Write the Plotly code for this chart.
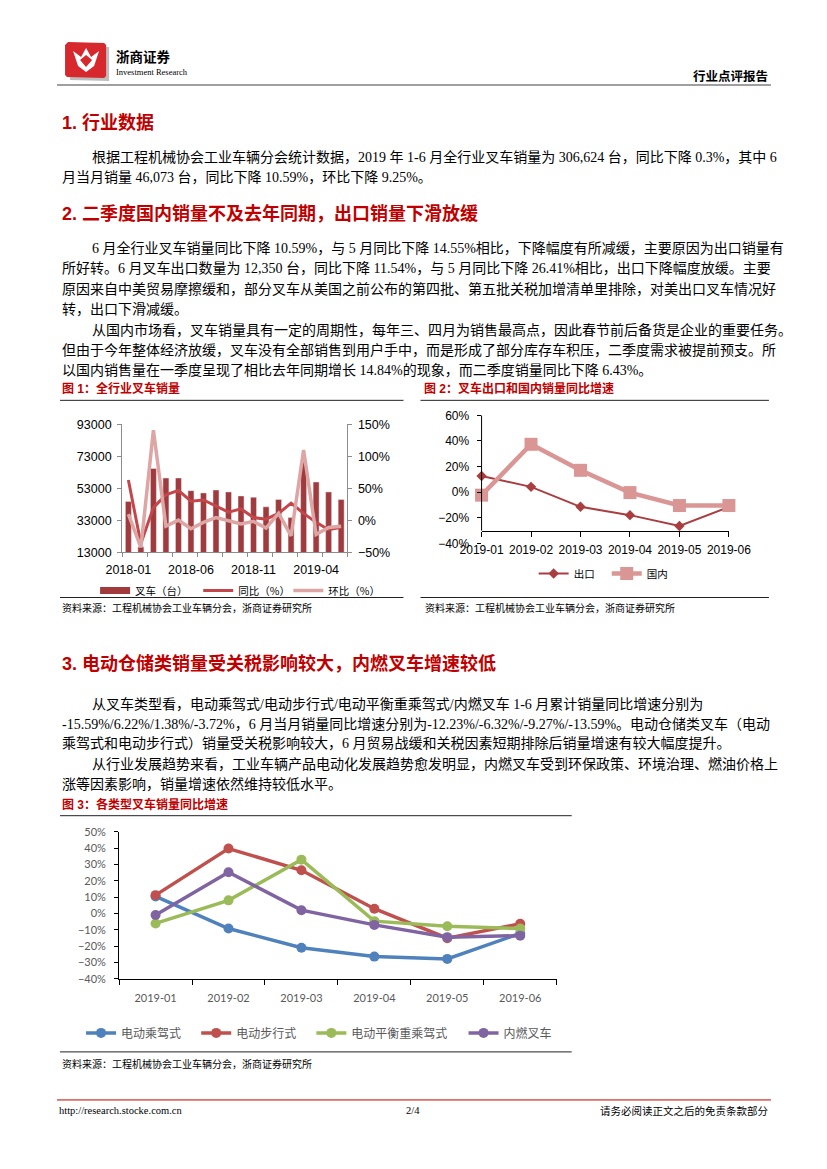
import plotly.graph_objects as go

W, H = 827, 1169
# the page is photographed with the figure occupying this box of the picture
OX, OY, EW, EH = 30, 15, 782, 1154

# ---------------- data ----------------
months_1 = ["2018-01", "2018-02", "2018-03", "2018-04", "2018-05", "2018-06",
            "2018-07", "2018-08", "2018-09", "2018-10", "2018-11", "2018-12",
            "2019-01", "2019-02", "2019-03", "2019-04", "2019-05", "2019-06"]
forklift_sales = [44900, 16500, 65500, 59500, 59500, 51600, 50200, 52000, 50800,
                  48300, 47500, 41500, 46100, 34800, 69500, 57000, 50800, 46073]
yoy_pct = [63, -36, 20, 40, 47, 30, 32, 22, 13, 18, 4.5, 2, 11, 27, 11, -3, -14.55, -10.59]
mom_pct = [10, -42, 141, -9, 0.5, -13, -3, 4.5, -0.5, -5.5, -1.5, -12, 11, -24, 110, -22, -11, -9.25]

months_2 = ["2019-01", "2019-02", "2019-03", "2019-04", "2019-05", "2019-06"]
export_yoy = [12.7, 4.2, -11.4, -17.9, -26.41, -11.54]
domestic_yoy = [-2.3, 37.4, 17.1, -0.3, -10.4, -10.4]

months_3 = ["2019-01", "2019-02", "2019-03", "2019-04", "2019-05", "2019-06"]
elec_ride = [10.4, -9.2, -21.0, -26.4, -27.8, -12.23]
elec_walk = [11.2, 39.7, 26.4, 2.9, -15.1, -6.32]
elec_counter = [-6.1, 8.0, 32.9, -4.7, -7.8, -9.27]
ic_forklift = [-1.0, 25.2, 2.0, -7.0, -14.5, -13.59]

# ---------------- helpers ----------------
def X(px):
    return (px - OX) / EW

def Y(py):
    return 1 - (py - OY) / EH

RED = "#C00000"
BODY = "Liberation Serif, Noto Sans CJK SC, serif"
SANS = "Liberation Sans, Noto Sans CJK SC, sans-serif"
CJK = "Noto Sans CJK SC, sans-serif"
BAR_COLOR = "#A13A3C"

annotations = []
shapes = []

def text(px, py, s, size=14, color="#000", family=BODY, anchor="left", bold=False):
    if bold:
        s = "<b>" + s + "</b>"
    annotations.append(dict(x=X(px), y=Y(py), xref="paper", yref="paper", text=s,
                            showarrow=False, xanchor=anchor, yanchor="middle",
                            font=dict(size=size, color=color, family=family)))

def hline(x0, x1, py, color="#000", width=1):
    shapes.append(dict(type="line", xref="paper", yref="paper", x0=X(x0), x1=X(x1),
                       y0=Y(py), y1=Y(py), line=dict(color=color, width=width)))

def path(points, fill):
    d = "M " + " L ".join(f"{X(a)},{Y(b)}" for a, b in points) + " Z"
    shapes.append(dict(type="path", xref="paper", yref="paper", path=d,
                       fillcolor=fill, line=dict(width=0)))

fig = go.Figure()

# ---------------- chart 1 ----------------
idx1 = list(range(len(months_1)))
fig.add_trace(go.Bar(x=idx1, y=forklift_sales, name="叉车（台）", marker_color=BAR_COLOR,
                     width=0.48, xaxis="x", yaxis="y", showlegend=False))
# legend entry drawn as a wide bar swatch
fig.add_trace(go.Scatter(x=[None], y=[None], name="叉车（台）", mode="lines",
                         line=dict(color=BAR_COLOR, width=7), xaxis="x", yaxis="y",
                         legend="legend", hoverinfo="skip"))
fig.add_trace(go.Scatter(x=idx1, y=yoy_pct, name="同比（%）", mode="lines",
                         line=dict(color="#C4464A", width=3), xaxis="x", yaxis="y2", legend="legend2"))
fig.add_trace(go.Scatter(x=idx1, y=mom_pct, name="环比（%）", mode="lines",
                         line=dict(color="#DDA6A5", width=3.5), xaxis="x", yaxis="y2", legend="legend3"))

# ---------------- chart 2 ----------------
idx2 = list(range(len(months_2)))
fig.add_trace(go.Scatter(x=idx2, y=export_yoy, name="出口", mode="lines+markers",
                         line=dict(color="#A93D40", width=2),
                         marker=dict(symbol="diamond", size=8, color="#A93D40"),
                         cliponaxis=False, xaxis="x2", yaxis="y3", legend="legend4"))
fig.add_trace(go.Scatter(x=idx2, y=domestic_yoy, name="国内", mode="lines+markers",
                         line=dict(color="#D99694", width=4.5),
                         marker=dict(symbol="square", size=13, color="#D99694"),
                         cliponaxis=False, xaxis="x2", yaxis="y3", legend="legend5"))

# ---------------- chart 3 ----------------
idx3 = list(range(len(months_3)))
series3 = [("电动乘驾式", elec_ride, "#4F81BD"), ("电动步行式", elec_walk, "#C0504D"),
           ("电动平衡重乘驾式", elec_counter, "#9BBB59"), ("内燃叉车", ic_forklift, "#8064A2")]
for k, (name, vals, col) in enumerate(series3):
    fig.add_trace(go.Scatter(x=idx3, y=vals, name=name, mode="lines+markers",
                             line=dict(color=col, width=3.5),
                             marker=dict(symbol="circle", size=10, color=col),
                             cliponaxis=False, xaxis="x3", yaxis="y4", legend=f"legend{6 + k}"))

axfont = dict(family="Liberation Sans, Arial, sans-serif", size=12.5, color="#000")
axfont2 = dict(family="Liberation Sans, Arial, sans-serif", size=12, color="#000")
axfont3 = dict(family="Lato, Liberation Sans, sans-serif", size=11, color="#595959")

def leg(px, py, size=10.5, color="#000"):
    return dict(orientation="h", x=X(px), y=Y(py), xanchor="left", yanchor="middle",
                font=dict(family=CJK, size=size, color=color), bgcolor="rgba(0,0,0,0)",
                itemwidth=30)

layout_legends = {
    "legend": leg(95, 590), "legend2": leg(198, 590), "legend3": leg(288, 590),
    "legend4": leg(533, 573), "legend5": leg(606, 573),
    "legend6": leg(81, 1032, 12, "#595959"), "legend7": leg(196, 1032, 12, "#595959"),
    "legend8": leg(311, 1032, 12, "#595959"), "legend9": leg(463, 1032, 12, "#595959"),
}

fig.update_layout(
    width=W, height=H, autosize=False,
    margin=dict(l=0, r=0, t=0, b=0),
    paper_bgcolor="white", plot_bgcolor="white",
    barmode="overlay",
    xaxis=dict(domain=[X(122), X(347)], anchor="y", range=[-0.5, len(months_1) - 0.5],
               tickmode="array", tickvals=idx1[::5], ticktext=months_1[::5],
               ticks="", ticklabelstandoff=6, showline=True, linecolor="#8c8c8c", linewidth=1,
               showgrid=False, zeroline=False, tickfont=axfont,
               minor=dict(tickmode="array", tickvals=[i - 0.5 for i in range(0, len(months_1) + 1, 2)],
                          ticks="outside", ticklen=4, tickcolor="#8c8c8c", showgrid=False)),
    yaxis=dict(domain=[Y(552), Y(424)], anchor="x", range=[13000, 93000], dtick=20000,
               tick0=13000, ticks="outside", ticklen=4, tickcolor="#8c8c8c", ticklabelstandoff=3,
               showline=True, linecolor="#8c8c8c", showgrid=False, zeroline=False,
               tickfont=axfont, tickformat="d"),
    yaxis2=dict(overlaying="y", side="right", anchor="x", range=[-50, 150], dtick=50,
                ticksuffix="%", ticks="outside", ticklen=4, tickcolor="#8c8c8c", ticklabelstandoff=3,
                showline=True, linecolor="#8c8c8c", showgrid=False, zeroline=False,
                tickfont=axfont),
    xaxis2=dict(domain=[X(481), X(728)], anchor="free", position=Y(530.5), range=[0, 5],
                tickmode="array", tickvals=idx2, ticktext=months_2, ticks="outside",
                tickangle=0, ticklen=5, tickcolor="#000", ticklabelstandoff=3,
                showline=True, linecolor="#000",
                showgrid=False, zeroline=False, tickfont=axfont2),
    yaxis3=dict(domain=[Y(543), Y(415)], anchor="x2", range=[-40, 60], dtick=20,
                ticksuffix="%", ticks="outside", ticklen=4, tickcolor="#000", ticklabelstandoff=5,
                showline=False, showgrid=False, zeroline=False, tickfont=axfont2),
    xaxis3=dict(domain=[X(119), X(556)], anchor="y4", range=[-0.5, 5.5],
                tickmode="array", tickvals=idx3, ticktext=months_3, ticks="",
                tickangle=0, ticklabelstandoff=9, showline=True, linecolor="#000",
                showgrid=False, zeroline=False, tickfont=axfont3,
                minor=dict(tickmode="array", tickvals=[i - 0.5 for i in range(len(months_3) + 1)],
                           ticks="outside", ticklen=5, tickcolor="#000", showgrid=False)),
    yaxis4=dict(domain=[Y(978), Y(831)], anchor="x3", range=[-40, 50], dtick=10,
                ticksuffix="%", ticks="outside", ticklen=4, tickcolor="#000", ticklabelstandoff=6,
                showline=True, linecolor="#000", showgrid=False, zeroline=False,
                tickfont=axfont3),
    showlegend=True,
    **layout_legends,
)

# chart 2 vertical axis line, -30% .. 60%
shapes.append(dict(type="line", xref="x2 domain", yref="y3", x0=0, x1=0, y0=-30, y1=60,
                   line=dict(color="#000", width=1)))

# ---------------- header ----------------
path([(70, 46), (109, 47), (109, 81), (70, 80)], "#bdbdbd")
path([(68, 42), (104, 43), (106, 45), (106, 76), (104, 78), (67, 77), (65, 75), (65, 45)], "#D7282E")
path([(73, 51), (81, 57), (86, 48), (91, 57), (99, 51), (94, 66), (86, 72), (78, 66)], "white")
path([(80, 60), (86, 55), (92, 60), (86, 67)], "#D7282E")
text(114, 56, "浙商证券", size=13.5, family="Noto Sans CJK SC", bold=True)
text(114, 72, "Investment Research", size=8.5, family="Liberation Serif", color="#000")
text(769, 75, "行业点评报告", size=12.5, family=CJK, anchor="right", bold=True)
hline(57, 770, 85, color="#7f7f7f", width=1.6)

# ---------------- body text ----------------
HEAD = dict(size=18, color=RED, family=SANS, bold=True)
text(60, 123, "1. 行业数据", **HEAD)
text(90, 157, "根据工程机械协会工业车辆分会统计数据，2019 年 1-6 月全行业叉车销量为 306,624 台，同比下降 0.3%，其中 6")
text(60, 177, "月当月销量 46,073 台，同比下降 10.59%，环比下降 9.25%。")

text(60, 213, "2. 二季度国内销量不及去年同期，出口销量下滑放缓", **HEAD)
text(90, 248, "6 月全行业叉车销量同比下降 10.59%，与 5 月同比下降 14.55%相比，下降幅度有所减缓，主要原因为出口销量有")
text(60, 268, "所好转。6 月叉车出口数量为 12,350 台，同比下降 11.54%，与 5 月同比下降 26.41%相比，出口下降幅度放缓。主要")
text(60, 289, "原因来自中美贸易摩擦缓和，部分叉车从美国之前公布的第四批、第五批关税加增清单里排除，对美出口叉车情况好")
text(60, 309, "转，出口下滑减缓。")
text(90, 330, "从国内市场看，叉车销量具有一定的周期性，每年三、四月为销售最高点，因此春节前后备货是企业的重要任务。")
text(60, 350, "但由于今年整体经济放缓，叉车没有全部销售到用户手中，而是形成了部分库存车积压，二季度需求被提前预支。所")
text(60, 370, "以国内销售量在一季度呈现了相比去年同期增长 14.84%的现象，而二季度销量同比下降 6.43%。")

CAP = dict(size=12, color=RED, family=SANS, bold=True)
text(60, 388, "图 1：全行业叉车销量", **CAP)
text(421, 388, "图 2：叉车出口和国内销量同比增速", **CAP)
hline(60, 403, 400, color="#222", width=1)
hline(420, 768, 400, color="#222", width=1)
hline(60, 403, 597, color="#222", width=1)
hline(420, 768, 597, color="#222", width=1)
SRC = dict(size=10, color="#000", family=BODY)
text(60, 607, "资料来源：工程机械协会工业车辆分会，浙商证券研究所", **SRC)
text(422, 607, "资料来源：工程机械协会工业车辆分会，浙商证券研究所", **SRC)

text(60, 663, "3. 电动仓储类销量受关税影响较大，内燃叉车增速较低", **HEAD)
text(90, 703, "从叉车类型看，电动乘驾式/电动步行式/电动平衡重乘驾式/内燃叉车 1-6 月累计销量同比增速分别为")
text(60, 723, "-15.59%/6.22%/1.38%/-3.72%，6 月当月销量同比增速分别为-12.23%/-6.32%/-9.27%/-13.59%。电动仓储类叉车（电动")
text(60, 743, "乘驾式和电动步行式）销量受关税影响较大，6 月贸易战缓和关税因素短期排除后销量增速有较大幅度提升。")
text(90, 763, "从行业发展趋势来看，工业车辆产品电动化发展趋势愈发明显，内燃叉车受到环保政策、环境治理、燃油价格上")
text(60, 783, "涨等因素影响，销量增速依然维持较低水平。")

text(60, 804, "图 3：各类型叉车销量同比增速", **CAP)
hline(60, 571, 815, color="#222", width=1)
hline(60, 571, 1051, color="#222", width=1)
text(60, 1063, "资料来源：工程机械协会工业车辆分会，浙商证券研究所", **SRC)

# ---------------- footer ----------------
hline(57, 770, 1099, color=RED, width=1)
text(57, 1110, "http://research.stocke.com.cn", size=10.5, family="Liberation Serif")
text(413, 1110, "2/4", size=10.5, family="Liberation Serif", anchor="center")
text(769, 1110, "请务必阅读正文之后的免责条款部分", size=10.5, family=BODY, anchor="right")

fig.update_layout(annotations=annotations, shapes=shapes)
fig.write_html("out.html")
